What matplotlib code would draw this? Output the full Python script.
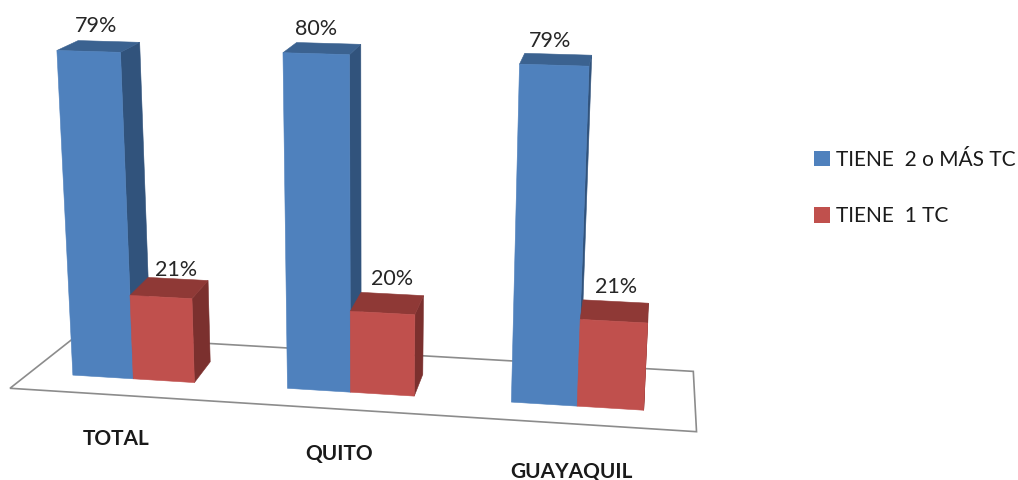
import numpy as np
import matplotlib
matplotlib.use("Agg")
import matplotlib.pyplot as plt
from matplotlib.patches import Polygon, Patch

categories = ["TOTAL", "QUITO", "GUAYAQUIL"]
series_names = ["TIENE  2 o MÁS TC", "TIENE  1 TC"]
tiene_dos = [79, 80, 79]
tiene_uno = [21, 20, 21]

plt.rcParams['font.family'] = ['Lato', 'DejaVu Sans']

# (x, depth, height) -> picture pixel, used to fit the camera of the 3D view
calib_world = [(0, 0, 0), (9, 0, 0), (3.5, 0, 0), (0, 0, 79), (7, 0, 79), (8, 0, 79),
               (0, 1, 79), (8, 1, 79), (2, 1, 21), (9, 1, 21), (2, 0, 21), (2, 1, 0),
               (3.5, 0, 80), (5.5, 1, 20), (7, 0, 0), (5.5, 0, 0)]
calib_px = [(73, 375), (644, 411), (287, 388), (57, 50), (520, 63), (588, 66),
            (78, 40), (592, 57), (208, 282), (649, 302), (193, 300), (210, 361),
            (283, 53), (423, 295), (511, 402), (414, 396)]

rows, rhs = [], []
for (X, D, Z), (u, v) in zip(calib_world, calib_px):
    rows.append([X, D, Z, 1, 0, 0, 0, 0, -u*X, -u*D, -u*Z])
    rhs.append(u)
    rows.append([0, 0, 0, 0, X, D, Z, 1, -v*X, -v*D, -v*Z])
    rhs.append(v)
cam = np.linalg.lstsq(np.array(rows, float), np.array(rhs, float), rcond=None)[0]
cam = np.append(cam, 1.0).reshape(3, 4)


def project(x, d, z):
    u, v, w = cam @ np.array([x, d, z, 1.0])
    return u/w, v/w


def face(ax, pts, color, zorder):
    ax.add_patch(Polygon([project(*p) for p in pts], closed=True, facecolor=color,
                         edgecolor=color, linewidth=0.4, zorder=zorder))


def bar3d(ax, x, h, front, top, side, zorder):
    x1 = x + 1
    face(ax, [(x1, 0, 0), (x1, 1, 0), (x1, 1, h), (x1, 0, h)], side, zorder)
    face(ax, [(x, 0, h), (x1, 0, h), (x1, 1, h), (x, 1, h)], top, zorder)
    face(ax, [(x, 0, 0), (x1, 0, 0), (x1, 0, h), (x, 0, h)], front, zorder + 0.1)


fig = plt.figure(figsize=(10.18, 4.80), dpi=100)
ax = fig.add_axes([0, 0, 1, 1])
ax.set_xlim(0, 1018)
ax.set_ylim(480, 0)
ax.axis('off')

# floor
floor = [(-0.77, -0.75, 0), (9.77, -0.75, 0), (9.77, 1.9, 0), (-0.58, 1.9, 0)]
ax.add_patch(Polygon([project(*p) for p in floor], closed=True, facecolor='white',
                     edgecolor='#8c8c8c', linewidth=1.2, zorder=1))

blue = ('#4F81BD', '#3B6290', '#31537C')
red = ('#C0504D', '#8F3936', '#7B302E')
spacing = 3.5

# label offsets from the top of each bar
dx_blue = [-13, -13, -8]
dy_blue = [-15, -14, -13]
dx_red = [-2, 0, 1]
dy_red = [-9, -15, -15]
dy_cat = [44, 45, 48]

for i, cat in enumerate(categories):
    x = i * spacing
    z = 2 + i
    bar3d(ax, x, tiene_dos[i], *blue, z)
    bar3d(ax, x + 1, tiene_uno[i], *red, z + 0.2)

    u, v = project(x + 0.5, 1, tiene_dos[i])
    ax.text(u + dx_blue[i], v + dy_blue[i], f"{tiene_dos[i]}%", ha='center', va='center',
            fontsize=15.5, color='#262626', zorder=10)
    u, v = project(x + 1.5, 1, tiene_uno[i])
    ax.text(u + dx_red[i], v + dy_red[i], f"{tiene_uno[i]}%", ha='center', va='center',
            fontsize=15.5, color='#262626', zorder=10)

    u, v = project(x + 1, -0.75, 0)
    ax.text(u - 3, v + dy_cat[i], cat, ha='center', va='center', fontsize=15,
            fontweight='bold', color='#1a1a1a', zorder=10)

handles = [Patch(facecolor=blue[0], label=series_names[0]),
           Patch(facecolor=red[0], label=series_names[1])]
fig.legend(handles=handles, loc='upper left', bbox_to_anchor=(0.7996, 0.688), frameon=False,
           fontsize=15, handlelength=0.77, handleheight=0.77, handletextpad=0.3,
           labelspacing=1.75, labelcolor='#1a1a1a', borderpad=0, borderaxespad=0)

fig.savefig("out.png", dpi=100)
